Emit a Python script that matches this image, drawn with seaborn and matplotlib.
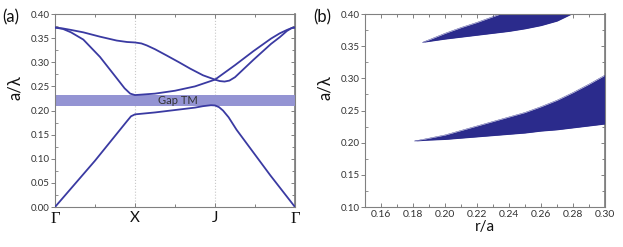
import numpy as np
import pandas as pd
import matplotlib
matplotlib.use("Agg")
import matplotlib.pyplot as plt
import seaborn as sns
from matplotlib.ticker import MultipleLocator, FormatStrFormatter

# ---- panel (a): band structure, k path G-X-J-G mapped to 0..3
k_labels = ["Γ", "X", "J", "Γ"]

band1_k = [0, 0.5, 0.9, 0.95, 1.0, 1.25, 1.5, 1.75, 1.85, 1.95, 2.0, 2.05, 2.1, 2.17, 2.27, 2.69, 3.0]
band1_f = [0, 0.096, 0.178, 0.188, 0.192, 0.196, 0.201, 0.206, 0.209, 0.211, 0.2105, 0.207, 0.200, 0.186, 0.160, 0.066, 0]

band2_k = [0, 0.1, 0.2, 0.354, 0.5625, 0.771, 0.87, 0.94, 1.0, 1.25, 1.5, 1.75, 2.0, 2.25, 2.48, 2.7, 2.81, 2.9, 2.96, 3.0]
band2_f = [0.372, 0.369, 0.362, 0.347, 0.311, 0.267, 0.246, 0.235, 0.232, 0.235, 0.241, 0.250, 0.264, 0.294, 0.323, 0.349, 0.360, 0.367, 0.371, 0.372]

band3_k = [0, 0.1, 0.2, 0.354, 0.5625, 0.771, 0.9, 1.0, 1.08, 1.146, 1.25, 1.396, 1.55, 1.6875, 1.85,
           2.0, 2.06, 2.12, 2.18, 2.25, 2.48, 2.7, 2.81, 2.9, 2.96, 3.0]
band3_f = [0.372, 0.370, 0.367, 0.362, 0.353, 0.345, 0.342, 0.341, 0.339, 0.335, 0.327, 0.314, 0.300, 0.287, 0.273,
           0.264, 0.261, 0.260, 0.262, 0.269, 0.305, 0.338, 0.352, 0.365, 0.371, 0.372]

gap_lo, gap_hi = 0.209, 0.232

# ---- panel (b): gap map vs r/a
low_r = [0.181, 0.19, 0.20, 0.21, 0.22, 0.23, 0.24, 0.25, 0.26, 0.27, 0.28, 0.29, 0.30]
low_top = [0.2026, 0.207, 0.212, 0.219, 0.226, 0.233, 0.240, 0.247, 0.256, 0.266, 0.278, 0.291, 0.305]
low_bot = [0.2026, 0.204, 0.205, 0.207, 0.209, 0.211, 0.213, 0.215, 0.218, 0.220, 0.223, 0.226, 0.229]

up_r = [0.186, 0.20, 0.21, 0.22, 0.23, 0.24, 0.25, 0.26, 0.27, 0.28]
up_top = [0.356, 0.370, 0.379, 0.387, 0.396, 0.405, 0.414, 0.423, 0.432, 0.441]
up_bot = [0.356, 0.361, 0.364, 0.367, 0.370, 0.373, 0.377, 0.382, 0.389, 0.401]

line_col = "#3a3aa2"
fill_col = "#2b2b8c"
gap_col = "#9494d3"
spine_col = "#808080"
txt_col = "#333333"

sns.set_theme(style="white")
plt.rcParams["font.family"] = ["Lato", "DejaVu Sans"]

fig = plt.figure(figsize=(6.23, 2.47), dpi=100)
ax1 = fig.add_axes([0.0883, 0.1619, 0.3852, 0.7814])
ax2 = fig.add_axes([0.5859, 0.1619, 0.3852, 0.7814])

bands = pd.concat([
    pd.DataFrame({"k": band1_k, "f": band1_f, "band": 1}),
    pd.DataFrame({"k": band2_k, "f": band2_f, "band": 2}),
    pd.DataFrame({"k": band3_k, "f": band3_f, "band": 3}),
])

ax1.axhspan(gap_lo, gap_hi, color=gap_col, lw=0, zorder=1)
for x in [1, 2]:
    ax1.axvline(x, color="#c8c8c8", ls=":", lw=0.8, zorder=0)
sns.lineplot(data=bands, x="k", y="f", units="band", estimator=None, sort=False,
             color=line_col, lw=1.3, ax=ax1, zorder=3)
ax1.text(1.53, (gap_lo + gap_hi) / 2, "Gap TM", ha="center", va="center",
         fontsize=8, color=txt_col, zorder=4)

ax1.set_xlim(0, 3)
ax1.set_ylim(0, 0.4)
ax1.set_xticks([0, 1, 2, 3])
ax1.set_xticklabels(k_labels)
ax1.xaxis.set_minor_locator(MultipleLocator(0.5))
ax1.yaxis.set_major_locator(MultipleLocator(0.05))
ax1.yaxis.set_minor_locator(MultipleLocator(0.025))
ax1.yaxis.set_major_formatter(FormatStrFormatter("%.2f"))
for i, lab in enumerate(ax1.get_xticklabels()):
    lab.set_fontsize(11)
    lab.set_color("#111111")
    if k_labels[i] == "Γ":
        lab.set_family(["Liberation Serif", "DejaVu Serif"])
        lab.set_fontsize(12)

# panel (b)
lower = pd.DataFrame({"r": low_r, "top": low_top, "bot": low_bot})
upper = pd.DataFrame({"r": up_r, "top": up_top, "bot": up_bot})
for df in [lower, upper]:
    sns.lineplot(data=df, x="r", y="top", color=fill_col, lw=0.3, ax=ax2)
    sns.lineplot(data=df, x="r", y="bot", color=fill_col, lw=0.3, ax=ax2)
    ax2.fill_between(df["r"], df["bot"], df["top"], color=fill_col, lw=0)

ax2.set_xlim(0.15, 0.30)
ax2.set_ylim(0.10, 0.40)
ax2.set_xticks(np.arange(0.16, 0.301, 0.02))
ax2.xaxis.set_minor_locator(MultipleLocator(0.01))
ax2.yaxis.set_major_locator(MultipleLocator(0.05))
ax2.yaxis.set_minor_locator(MultipleLocator(0.025))
ax2.xaxis.set_major_formatter(FormatStrFormatter("%.2f"))
ax2.yaxis.set_major_formatter(FormatStrFormatter("%.2f"))
ax2.set_xlabel("r/a", fontsize=11, color="#111111", labelpad=1)

for ax in [ax1, ax2]:
    ax.set_ylabel("a/λ", fontsize=12, color="#111111")
    ax.yaxis.set_label_coords(-0.135, 0.62)
    for sp in ax.spines.values():
        sp.set_color(spine_col)
        sp.set_linewidth(0.8)
    ax.tick_params(axis="y", which="major", direction="out", length=3, width=0.7,
                   color=spine_col, labelsize=7, labelcolor=txt_col, pad=1, left=True)
    ax.tick_params(axis="y", which="minor", direction="in", length=2, width=0.6,
                   color=spine_col, left=True)
    ax.tick_params(axis="x", which="both", direction="in", top=True, bottom=True,
                   color=spine_col, width=0.7)
    ax.tick_params(axis="x", which="major", length=3)
    ax.tick_params(axis="x", which="minor", length=2)
    sec = ax.secondary_yaxis("right")
    sec.yaxis.set_major_locator(MultipleLocator(0.05))
    sec.yaxis.set_minor_locator(MultipleLocator(0.025))
    sec.tick_params(which="both", direction="in", labelright=False, color=spine_col, width=0.7)
    sec.tick_params(which="major", length=3)
    sec.tick_params(which="minor", length=2)
    sec.spines["right"].set_color(spine_col)

ax1.tick_params(axis="x", which="major", pad=3)
ax2.tick_params(axis="x", which="major", labelsize=7.5, labelcolor=txt_col, pad=2)
ax1.set_xlabel("")

fig.text(0.003, 0.93, "(a)", fontsize=12, color="#111111", va="center")
fig.text(0.503, 0.93, "(b)", fontsize=12, color="#111111", va="center")

fig.savefig("out.png", dpi=100)
